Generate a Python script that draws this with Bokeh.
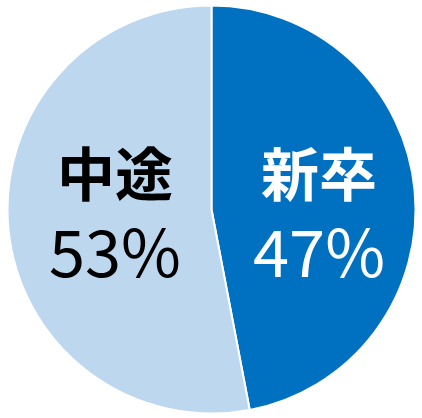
import numpy as np
from bokeh.plotting import figure
from bokeh.models import Range1d, ColumnDataSource
from bokeh.core.properties import value
from bokeh.embed import file_html
from bokeh.resources import INLINE

categories = ["新卒", "中途"]
values = [47, 53]
pct_labels = ["47%", "53%"]
colors = ["#0070C0", "#BDD7EE"]
text_colors = ["#FFFFFF", "#000000"]

W, H = 422, 418
cx, cy, r = 211, 209, 204

p = figure(width=W, height=H, output_backend="svg", toolbar_location=None,
           x_range=Range1d(0, W), y_range=Range1d(0, H), min_border=0)
p.axis.visible = False
p.grid.visible = False
p.outline_line_color = None
p.background_fill_color = "white"
p.border_fill_color = "white"

vals = np.array(values, dtype=float)
frac = vals / vals.sum()
ends_cum = np.cumsum(frac)
starts_cum = ends_cum - frac
start_ang = np.pi / 2 - 2 * np.pi * starts_cum
end_ang = np.pi / 2 - 2 * np.pi * ends_cum
mid = (starts_cum + ends_cum) / 2 * 2 * np.pi  # clockwise from top

src = ColumnDataSource(dict(start=list(start_ang), end=list(end_ang), color=colors,
                            x=[cx] * 2, y=[cy] * 2))
p.wedge(x="x", y="y", radius=r, start_angle="start", end_angle="end",
        direction="clock", fill_color="color", line_color="white", line_width=2,
        source=src)

lx = [cx + 0.5 * r * np.sin(m) + (6 if np.sin(m) > 0 else 5) for m in mid]
lab = ColumnDataSource(dict(x=lx, y=[cy] * 2, cat=categories, pct=pct_labels,
                            tc=text_colors))
p.text(x="x", y="y", text="cat", source=lab, text_color="tc",
       text_font=value("Noto Sans CJK JP"), text_font_style="bold",
       text_font_size="58px", text_align="center", text_baseline="middle",
       y_offset=-39)
p.text(x="x", y="y", text="pct", source=lab, text_color="tc",
       text_font=value("Noto Sans CJK JP"), text_font_size="65px",
       text_align="center", text_baseline="middle", y_offset=39)

open("out.html", "w").write(file_html(p, INLINE))
